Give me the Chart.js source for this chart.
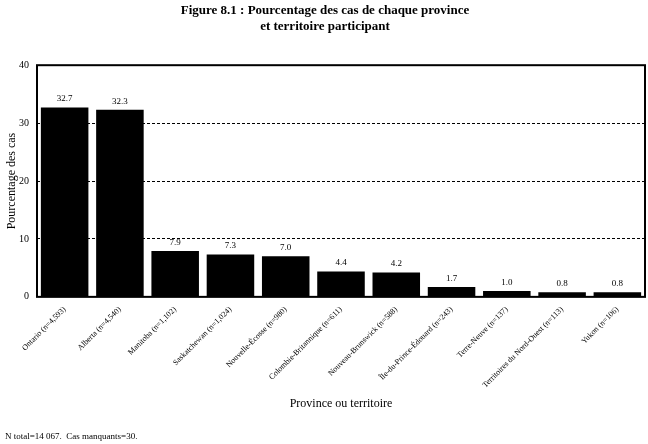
<!DOCTYPE html>
<html>
<head>
<meta charset="utf-8">
<script src="https://cdn.jsdelivr.net/npm/chart.js@4"></script>
<style>
  body { margin: 0; background: #fff; }
  #wrap { width: 648px; height: 444px; position: relative; }
</style>
</head>
<body>
<div id="wrap"><canvas id="chart_canvas"></canvas></div>
<script>
// data
const provinces = [
  "Ontario (n=4,593)",
  "Alberta (n=4,540)",
  "Manitoba (n=1,102)",
  "Saskatchewan (n=1,024)",
  "Nouvelle-Écosse (n=980)",
  "Colombie-Britannique (n=611)",
  "Nouveau-Brunswick (n=588)",
  "Île-du-Prince-Édouard (n=243)",
  "Terre-Neuve (n=137)",
  "Territoires du Nord-Ouest (n=113)",
  "Yukon (n=106)"
];
const pct_cases = [32.7, 32.3, 7.9, 7.3, 7.0, 4.4, 4.2, 1.7, 1.0, 0.8, 0.8];
const y_ticks = [0, 10, 20, 30, 40];

const serif = "'Liberation Serif', 'DejaVu Serif', serif";

// value labels above bars + frame round the plot
const bar_values = {
  id: "bar_values",
  afterDatasetsDraw(chart){
    const ctx = chart.ctx;
    const meta = chart.getDatasetMeta(0);
    ctx.save();
    ctx.fillStyle = "#000";
    ctx.font = "9px " + serif;
    ctx.textAlign = "center";
    ctx.textBaseline = "bottom";
    meta.data.forEach((bar, i) => {
      ctx.fillText(pct_cases[i].toFixed(1), bar.x, bar.y - 4);
    });
    const a = chart.chartArea;
    ctx.strokeStyle = "#000";
    ctx.lineWidth = 2;
    ctx.strokeRect(a.left, a.top, a.right - a.left, a.bottom - a.top);
    ctx.restore();
  }
};

const chart_1 = new Chart(document.getElementById("chart_canvas"), {
  type: "bar",
  data: {
    labels: provinces,
    datasets: [{
      data: pct_cases,
      backgroundColor: "#000",
      barPercentage: 0.86,
      categoryPercentage: 1.0
    }]
  },
  options: {
    responsive: true,
    maintainAspectRatio: false,
    animation: false,
    layout: { padding: { left: 5, right: 3, top: 0, bottom: 2 } },
    plugins: {
      legend: { display: false },
      tooltip: { enabled: false },
      title: {
        display: true,
        text: ["Figure 8.1 : Pourcentage des cas de chaque province", "et territoire participant"],
        color: "#000",
        font: { family: serif, size: 13, weight: "bold", lineHeight: 1.2 },
        padding: { top: 3, bottom: 31 }
      },
      subtitle: {
        display: true,
        position: "bottom",
        align: "start",
        text: "N total=14 067.  Cas manquants=30.",
        color: "#000",
        font: { family: serif, size: 9 },
        padding: { top: 20, bottom: 0 }
      }
    },
    scales: {
      x: {
        grid: { display: false },
        border: { display: false },
        ticks: {
          color: "#000",
          font: { family: serif, size: 8 },
          maxRotation: 45,
          minRotation: 45,
          autoSkip: false,
          padding: 0
        },
        title: {
          display: true,
          text: "Province ou territoire",
          color: "#000",
          font: { family: serif, size: 12 },
          padding: { top: 7, bottom: 0 }
        }
      },
      y: {
        min: 0,
        max: 40,
        afterBuildTicks(scale){ scale.ticks = y_ticks.map(v => ({ value: v })); },
        afterFit(scale){ scale.width = 32; },
        border: { display: false },
        grid: {
          drawTicks: false,
          color: c => (c.tick && c.tick.value > 0 && c.tick.value < 40) ? "#000" : "rgba(0,0,0,0)",
          lineWidth: 1
        },
        ticks: {
          color: "#000",
          font: { family: serif, size: 10 },
          padding: 8
        },
        title: {
          display: true,
          text: "Pourcentage des cas",
          color: "#000",
          font: { family: serif, size: 12 },
          padding: { top: 0, bottom: 0 }
        }
      }
    }
  },
  plugins: [bar_values]
});

// dashed grid lines
chart_1.options.scales.y.border.dash = [3, 2];
chart_1.options.scales.y.grid.borderDash = [3, 2];
chart_1.update();
</script>
</body>
</html>
